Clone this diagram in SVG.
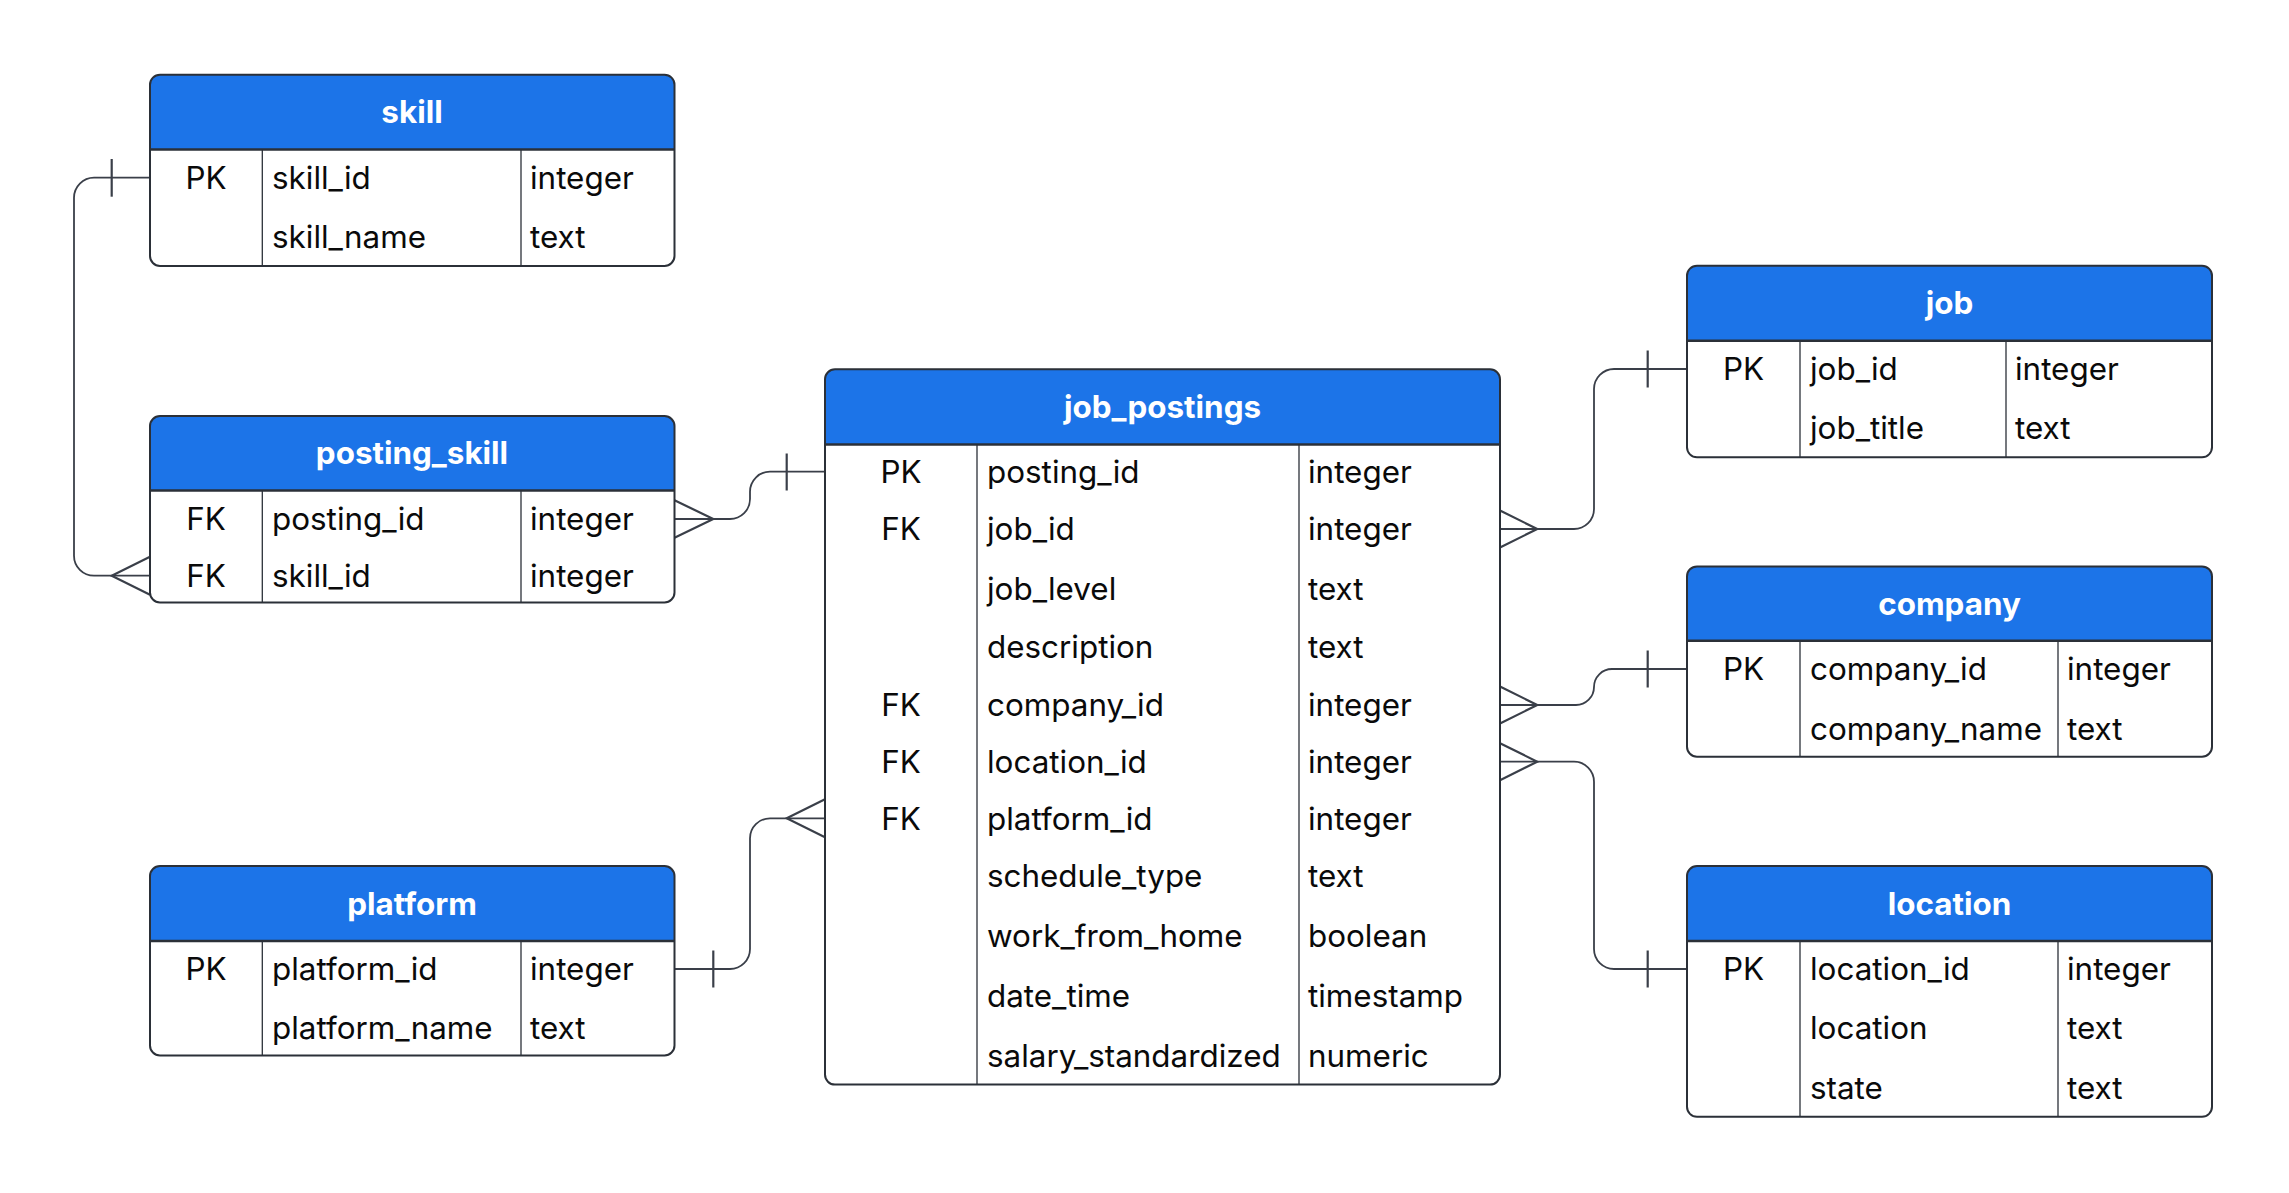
<svg xmlns="http://www.w3.org/2000/svg" width="2289" height="1193" viewBox="0 0 2289 1193">
  <style>
    .body { fill: #ffffff; }
    .hdr { fill: #1c74e8; }
    .frame { fill: none; stroke: #2b3038; stroke-width: 2; }
    .hline { stroke: #2b3038; stroke-width: 2.4; }
    .vline { stroke: #2b3038; stroke-width: 1.3; }
    .title { font-family: Inter, "Liberation Sans", sans-serif; font-weight: 700; font-size: 31.4px; fill: #ffffff; text-anchor: middle; }
    .cell { font-family: Inter, "Liberation Sans", sans-serif; font-size: 31.4px; fill: #0a0a0a; }
    .key { text-anchor: middle; }
    .conn { fill: none; stroke: #3a3f49; stroke-width: 1.8; }
    .mark { fill: none; stroke: #3a3f49; stroke-width: 2.2; }
  </style>

  <rect width="2289" height="1193" fill="#ffffff"/>

  <!-- relationship lines -->
  <g id="connectors">
    <!-- skill.skill_id 1 — * posting_skill.skill_id -->
    <path class="conn" d="M150,177.7 H94 A20 20 0 0 0 74,197.7 V555.7 A20 20 0 0 0 94,575.7 H150"/>
    <line class="mark" x1="111.7" y1="159" x2="111.7" y2="196.7"/>
    <path class="mark" d="M150,556.7 L111.7,575.7 L150,594.7"/>

    <!-- posting_skill.posting_id * — 1 job_postings.posting_id -->
    <path class="conn" d="M674,519 H730 A20 20 0 0 0 750,499 V491.7 A20 20 0 0 1 770,471.7 H825"/>
    <path class="mark" d="M674,500 L713.3,519 L674,538"/>
    <line class="mark" x1="786.7" y1="453.5" x2="786.7" y2="490.5"/>

    <!-- job_postings.job_id * — 1 job.job_id -->
    <path class="conn" d="M1500,529 H1574 A20 20 0 0 0 1594,509 V389 A20 20 0 0 1 1614,369 H1687"/>
    <path class="mark" d="M1500,510.5 L1537.3,529 L1500,547.5"/>
    <line class="mark" x1="1647.7" y1="350.5" x2="1647.7" y2="387.5"/>

    <!-- job_postings.company_id * — 1 company.company_id -->
    <path class="conn" d="M1500,705 H1576 A18 18 0 0 0 1594,687 A18 18 0 0 1 1612,669 H1687"/>
    <path class="mark" d="M1500,686.5 L1537.3,705 L1500,723.5"/>
    <line class="mark" x1="1647.7" y1="650.5" x2="1647.7" y2="687.5"/>

    <!-- job_postings.location_id * — 1 location.location_id -->
    <path class="conn" d="M1500,761.7 H1574 A20 20 0 0 1 1594,781.7 V949 A20 20 0 0 0 1614,969 H1687"/>
    <path class="mark" d="M1500,743.2 L1537.3,761.7 L1500,780.2"/>
    <line class="mark" x1="1647.7" y1="950.5" x2="1647.7" y2="987.5"/>

    <!-- platform.platform_id 1 — * job_postings.platform_id -->
    <path class="conn" d="M674,969 H730 A20 20 0 0 0 750,949 V838.3 A20 20 0 0 1 770,818.3 H825"/>
    <line class="mark" x1="713.3" y1="950.5" x2="713.3" y2="987.5"/>
    <path class="mark" d="M825,799.3 L786.7,818.3 L825,837.3"/>
  </g>

  <!-- skill -->
  <g id="skill">
    <rect class="body" x="150" y="74.7" width="524.5" height="191.3" rx="10"/>
    <path class="hdr" d="M150,149.5 V84.7 A10 10 0 0 1 160,74.7 H664.5 A10 10 0 0 1 674.5,84.7 V149.5 Z"/>
    <line class="hline" x1="150" y1="149.5" x2="674.5" y2="149.5"/>
    <line class="vline" x1="262.3" y1="149.5" x2="262.3" y2="266"/>
    <line class="vline" x1="521" y1="149.5" x2="521" y2="266"/>
    <rect class="frame" x="150" y="74.7" width="524.5" height="191.3" rx="10"/>
    <text class="title" x="412" y="123.4">skill</text>
    <text class="cell key" x="206" y="189.1">PK</text>
    <text class="cell" x="272" y="189.1">skill_id</text>
    <text class="cell" x="530" y="189.1">integer</text>
    <text class="cell" x="272" y="247.9">skill_name</text>
    <text class="cell" x="530" y="247.9">text</text>
  </g>

  <!-- posting_skill -->
  <g id="posting_skill">
    <rect class="body" x="150" y="416" width="524.5" height="186.5" rx="10"/>
    <path class="hdr" d="M150,490.5 V426 A10 10 0 0 1 160,416 H664.5 A10 10 0 0 1 674.5,426 V490.5 Z"/>
    <line class="hline" x1="150" y1="490.5" x2="674.5" y2="490.5"/>
    <line class="vline" x1="262.3" y1="490.5" x2="262.3" y2="602.5"/>
    <line class="vline" x1="521" y1="490.5" x2="521" y2="602.5"/>
    <rect class="frame" x="150" y="416" width="524.5" height="186.5" rx="10"/>
    <text class="title" x="412" y="464.4">posting_skill</text>
    <text class="cell key" x="206" y="530.4">FK</text>
    <text class="cell" x="272" y="530.4">posting_id</text>
    <text class="cell" x="530" y="530.4">integer</text>
    <text class="cell key" x="206" y="587.1">FK</text>
    <text class="cell" x="272" y="587.1">skill_id</text>
    <text class="cell" x="530" y="587.1">integer</text>
  </g>

  <!-- platform -->
  <g id="platform">
    <rect class="body" x="150" y="866" width="524.5" height="189.5" rx="10"/>
    <path class="hdr" d="M150,941 V876 A10 10 0 0 1 160,866 H664.5 A10 10 0 0 1 674.5,876 V941 Z"/>
    <line class="hline" x1="150" y1="941" x2="674.5" y2="941"/>
    <line class="vline" x1="262.3" y1="941" x2="262.3" y2="1055.5"/>
    <line class="vline" x1="521" y1="941" x2="521" y2="1055.5"/>
    <rect class="frame" x="150" y="866" width="524.5" height="189.5" rx="10"/>
    <text class="title" x="412" y="914.9">platform</text>
    <text class="cell key" x="206" y="980.4">PK</text>
    <text class="cell" x="272" y="980.4">platform_id</text>
    <text class="cell" x="530" y="980.4">integer</text>
    <text class="cell" x="272" y="1039.1">platform_name</text>
    <text class="cell" x="530" y="1039.1">text</text>
  </g>

  <!-- job_postings -->
  <g id="job_postings">
    <rect class="body" x="825" y="369.3" width="675" height="715.3" rx="10"/>
    <path class="hdr" d="M825,444.5 V379.3 A10 10 0 0 1 835,369.3 H1490 A10 10 0 0 1 1500,379.3 V444.5 Z"/>
    <line class="hline" x1="825" y1="444.5" x2="1500" y2="444.5"/>
    <line class="vline" x1="977" y1="444.5" x2="977" y2="1084.6"/>
    <line class="vline" x1="1299" y1="444.5" x2="1299" y2="1084.6"/>
    <rect class="frame" x="825" y="369.3" width="675" height="715.3" rx="10"/>
    <text class="title" x="1162.5" y="418.4">job_postings</text>
    <text class="cell key" x="901" y="483.1">PK</text>
    <text class="cell" x="987" y="483.1">posting_id</text>
    <text class="cell" x="1308" y="483.1">integer</text>
    <text class="cell key" x="901" y="540.4">FK</text>
    <text class="cell" x="987" y="540.4">job_id</text>
    <text class="cell" x="1308" y="540.4">integer</text>
    <text class="cell" x="987" y="599.7">job_level</text>
    <text class="cell" x="1308" y="599.7">text</text>
    <text class="cell" x="987" y="658.1">description</text>
    <text class="cell" x="1308" y="658.1">text</text>
    <text class="cell key" x="901" y="716.4">FK</text>
    <text class="cell" x="987" y="716.4">company_id</text>
    <text class="cell" x="1308" y="716.4">integer</text>
    <text class="cell key" x="901" y="773.1">FK</text>
    <text class="cell" x="987" y="773.1">location_id</text>
    <text class="cell" x="1308" y="773.1">integer</text>
    <text class="cell key" x="901" y="829.7">FK</text>
    <text class="cell" x="987" y="829.7">platform_id</text>
    <text class="cell" x="1308" y="829.7">integer</text>
    <text class="cell" x="987" y="887.3">schedule_type</text>
    <text class="cell" x="1308" y="887.3">text</text>
    <text class="cell" x="987" y="947.1">work_from_home</text>
    <text class="cell" x="1308" y="947.1">boolean</text>
    <text class="cell" x="987" y="1007">date_time</text>
    <text class="cell" x="1308" y="1007">timestamp</text>
    <text class="cell" x="987" y="1066.8">salary_standardized</text>
    <text class="cell" x="1308" y="1066.8">numeric</text>
  </g>

  <!-- job -->
  <g id="job">
    <rect class="body" x="1687" y="265.7" width="525" height="191.6" rx="10"/>
    <path class="hdr" d="M1687,340.7 V275.7 A10 10 0 0 1 1697,265.7 H2202 A10 10 0 0 1 2212,275.7 V340.7 Z"/>
    <line class="hline" x1="1687" y1="340.7" x2="2212" y2="340.7"/>
    <line class="vline" x1="1800" y1="340.7" x2="1800" y2="457.3"/>
    <line class="vline" x1="2006" y1="340.7" x2="2006" y2="457.3"/>
    <rect class="frame" x="1687" y="265.7" width="525" height="191.6" rx="10"/>
    <text class="title" x="1949.5" y="314.4">job</text>
    <text class="cell key" x="1743.5" y="380.4">PK</text>
    <text class="cell" x="1810" y="380.4">job_id</text>
    <text class="cell" x="2015" y="380.4">integer</text>
    <text class="cell" x="1810" y="439.1">job_title</text>
    <text class="cell" x="2015" y="439.1">text</text>
  </g>

  <!-- company -->
  <g id="company">
    <rect class="body" x="1687" y="566.4" width="525" height="190.3" rx="10"/>
    <path class="hdr" d="M1687,640.7 V576.4 A10 10 0 0 1 1697,566.4 H2202 A10 10 0 0 1 2212,576.4 V640.7 Z"/>
    <line class="hline" x1="1687" y1="640.7" x2="2212" y2="640.7"/>
    <line class="vline" x1="1800" y1="640.7" x2="1800" y2="756.7"/>
    <line class="vline" x1="2058" y1="640.7" x2="2058" y2="756.7"/>
    <rect class="frame" x="1687" y="566.4" width="525" height="190.3" rx="10"/>
    <text class="title" x="1949.5" y="614.9">company</text>
    <text class="cell key" x="1743.5" y="680.4">PK</text>
    <text class="cell" x="1810" y="680.4">company_id</text>
    <text class="cell" x="2067" y="680.4">integer</text>
    <text class="cell" x="1810" y="739.8">company_name</text>
    <text class="cell" x="2067" y="739.8">text</text>
  </g>

  <!-- location -->
  <g id="location">
    <rect class="body" x="1687" y="866" width="525" height="250.8" rx="10"/>
    <path class="hdr" d="M1687,941 V876 A10 10 0 0 1 1697,866 H2202 A10 10 0 0 1 2212,876 V941 Z"/>
    <line class="hline" x1="1687" y1="941" x2="2212" y2="941"/>
    <line class="vline" x1="1800" y1="941" x2="1800" y2="1116.8"/>
    <line class="vline" x1="2058" y1="941" x2="2058" y2="1116.8"/>
    <rect class="frame" x="1687" y="866" width="525" height="250.8" rx="10"/>
    <text class="title" x="1949.5" y="914.9">location</text>
    <text class="cell key" x="1743.5" y="980.4">PK</text>
    <text class="cell" x="1810" y="980.4">location_id</text>
    <text class="cell" x="2067" y="980.4">integer</text>
    <text class="cell" x="1810" y="1039.1">location</text>
    <text class="cell" x="2067" y="1039.1">text</text>
    <text class="cell" x="1810" y="1098.9">state</text>
    <text class="cell" x="2067" y="1098.9">text</text>
  </g>
</svg>
